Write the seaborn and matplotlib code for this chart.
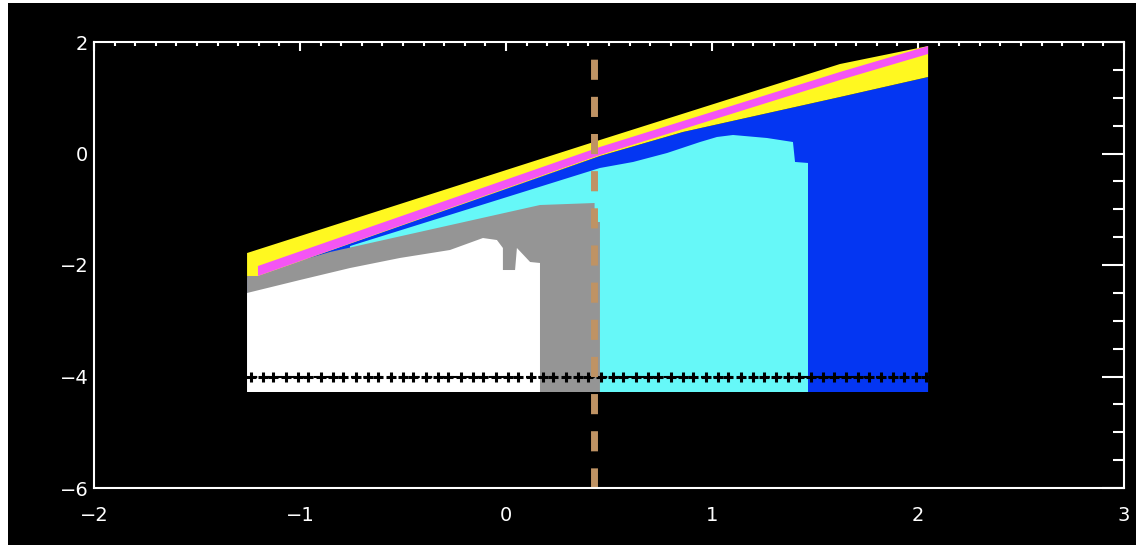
import matplotlib
matplotlib.use("Agg")
import matplotlib.pyplot as plt
import seaborn as sns
from matplotlib.ticker import MultipleLocator

# ---- data ----
# colour regions, drawn back to front
blue_x = [-1.257, 0.456, 0.859, 1.621, 2.049, 2.049, -1.257]
blue_y = [-2.233, -0.045, 0.386, 1.013, 1.372, -4.278, -4.278]

cyan_x = [-0.757, 0.456, 0.617, 0.782, 0.942, 1.024, 1.102, 1.267, 1.393, 1.403, 1.466, 1.466, -0.757]
cyan_y = [-1.660, -0.260, -0.152, 0.009, 0.206, 0.296, 0.332, 0.278, 0.206, -0.152, -0.170, -4.278, -4.278]

gray_x = [-1.257, -0.854, 0.165, 0.43, 0.43, 0.456, 0.456, -1.257]
gray_y = [-2.197, -1.767, -0.924, -0.888, -1.229, -1.229, -4.278, -4.278]

white_x = [-1.257, -1.0, -0.757, -0.515, -0.272, -0.112, -0.044, -0.015, -0.015,
           0.044, 0.053, 0.117, 0.165, 0.165, -1.257]
white_y = [-2.502, -2.269, -2.054, -1.874, -1.731, -1.516, -1.552, -1.695, -2.090,
           -2.090, -1.695, -1.946, -1.964, -4.278, -4.278]

yellow_x = [-1.257, 0.456, 1.621, 2.049, 2.049, 1.621, 0.859, 0.456, -1.204, -1.257]
yellow_y = [-1.785, 0.242, 1.605, 1.928, 1.372, 1.013, 0.386, -0.045, -2.197, -2.197]

magenta_x = [-1.204, 0.456, 1.621, 2.049, 2.049, 1.621, 0.456, -1.204]
magenta_y = [-2.018, 0.117, 1.462, 1.928, 1.785, 1.318, -0.027, -2.197]

# row of black "+" points at y = -4
plus_x = [-1.24, -1.18, -1.13, -1.07, -1.01, -0.96, -0.90, -0.84, -0.79, -0.73,
          -0.67, -0.62, -0.56, -0.50, -0.45, -0.39, -0.33, -0.28, -0.22, -0.16,
          -0.11, -0.05, 0.01, 0.06, 0.12, 0.18, 0.23, 0.29, 0.35, 0.40,
          0.46, 0.52, 0.57, 0.63, 0.69, 0.74, 0.80, 0.86, 0.91, 0.97,
          1.03, 1.08, 1.14, 1.20, 1.25, 1.31, 1.37, 1.42, 1.48, 1.54,
          1.59, 1.65, 1.71, 1.76, 1.82, 1.88, 1.93, 1.99, 2.04]
plus_y = [-4.0] * len(plus_x)

vline_x = 0.427

# ---- style ----
sns.set_style("dark", rc={"axes.facecolor": "black", "axes.edgecolor": "white",
                          "xtick.color": "white", "ytick.color": "white",
                          "axes.grid": False})
plt.rcParams['font.family'] = ['DejaVu Sans']

fig = plt.figure(figsize=(11.36, 5.45), dpi=100, facecolor="white")
# black backdrop, leaving a thin white strip at left and top
fig.patches.append(plt.Rectangle((8 / 1136, 0), 1, 1 - 3 / 545, transform=fig.transFigure,
                                 facecolor="black", edgecolor="none", zorder=-10))
ax = fig.add_axes([94 / 1136, 1 - 488 / 545, 1030 / 1136, 446 / 545])
ax.set_facecolor("black")

ax.fill(blue_x, blue_y, color="#0436F2", lw=0, zorder=1)
ax.fill(cyan_x, cyan_y, color="#66F8F8", lw=0, zorder=2)
ax.fill(gray_x, gray_y, color="#959595", lw=0, zorder=3)
ax.fill(white_x, white_y, color="white", lw=0, zorder=4)
ax.fill(yellow_x, yellow_y, color="#FFF820", lw=0, zorder=5)
ax.fill(magenta_x, magenta_y, color="#F455F4", lw=0, zorder=6)

sns.lineplot(x=plus_x, y=plus_y, color="black", lw=1.5, ax=ax, zorder=7,
             dashes=False, linestyle=(0, (3, 3)))
sns.scatterplot(x=plus_x, y=plus_y, marker="+", color="black", s=45,
                linewidth=2.2, ax=ax, zorder=8)

ax.axvline(vline_x, color="#BF9364", lw=5, dashes=(2.9, 2.45), zorder=9)

ax.set_xlim(-2, 3)
ax.set_ylim(-6, 2)
ax.xaxis.set_major_locator(MultipleLocator(1))
ax.xaxis.set_minor_locator(MultipleLocator(0.1))
ax.yaxis.set_major_locator(MultipleLocator(2))
ax.yaxis.set_minor_locator(MultipleLocator(0.5))

ax.tick_params(which="both", direction="in", top=True, right=True,
               colors="white", width=1.5, labelsize=14)
ax.tick_params(axis="x", which="major", length=6.5, pad=13)
ax.tick_params(axis="x", which="minor", length=3.2)
ax.tick_params(axis="y", which="major", length=16, pad=4)
ax.tick_params(axis="y", which="minor", length=8)
for sp in ax.spines.values():
    sp.set_color("white")
    sp.set_linewidth(1.5)
    sp.set_zorder(10)

fig.savefig("out.png", dpi=100, facecolor=fig.get_facecolor())
